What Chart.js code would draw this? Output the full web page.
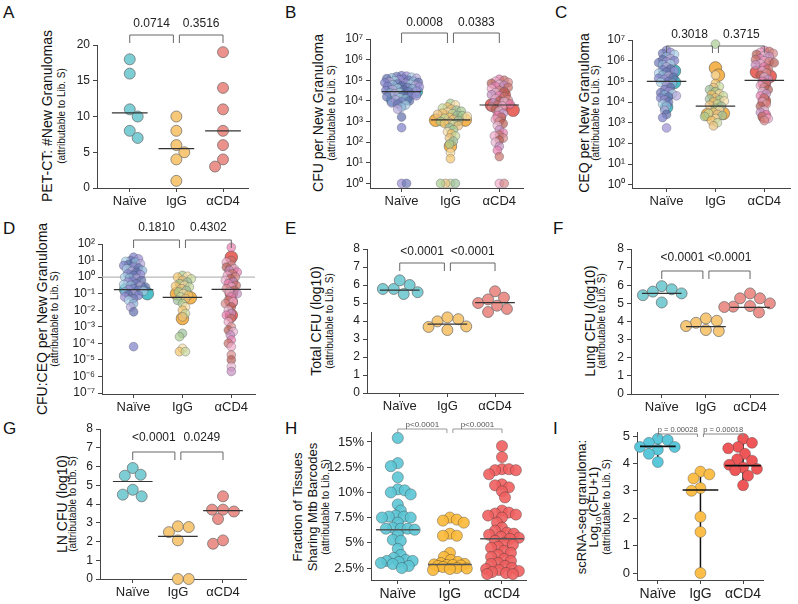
<!DOCTYPE html>
<html lang="en">
<head>
<meta charset="UTF-8" />
<title>Granuloma CFU panels</title>
<script src="https://cdn.jsdelivr.net/npm/chart.js"></script>
<style>
  body { margin: 0; background: #fff; font-family: 'Liberation Sans', Arial, sans-serif; }
  #fig { position: relative; width: 798px; height: 604px; overflow: hidden; }
  .box { position: absolute; }
  .letter { position: absolute; font-size: 17px; line-height: 17px; color: #111; }
  .ytitle { position: absolute; white-space: nowrap; transform: translate(-50%, -50%) rotate(-90deg); color: #111; line-height: 1; }
  .main { font-size: 14px; }
  .main2 { font-size: 13px; }
  .sub { font-size: 10px; }
</style>
</head>
<body>
<div id="fig"></div>
<script>
const cats = ['Naïve', 'IgG', 'αCD4'];

// A: PET-CT new granulomas
const aNaive = [18, 16, 11, 10, 8, 7];
const aIgG = [10, 8, 6, 5, 4, 1];
const aCD4 = [19, 14, 11, 8, 6, 4, 3];
const aMed = [10.5, 5.5, 8];
const aTicks = [0, 5, 10, 15, 20];
const aP = ['0.0714', '0.3516'];

// B: CFU per new granuloma (log10 exponents)
const bNaive = [5.22, 5.2, 5.18, 5.15, 5.12, 5.1, 5.08, 5.05, 5.02, 5.0, 4.97, 4.95, 4.92, 4.9, 4.88, 4.85, 4.82, 4.8, 4.78, 4.75, 4.72, 4.7, 4.68, 4.65, 4.6, 4.58, 4.55, 4.52, 4.5, 4.47, 4.45, 4.4, 4.38, 4.35, 4.3, 4.28, 4.25, 4.2, 4.15, 4.1, 4.05, 4.0, 3.95, 3.9, 3.85, 3.8, 3.7, 3.6, 3.22, 2.7, 0, 0];
const bNaiveBig = [4.65, 4.62, 4.6, 4.45, 4.3, 4.1, 4.05];
const bIgG = [3.88, 3.8, 3.7, 3.65, 3.6, 3.55, 3.5, 3.45, 3.4, 3.38, 3.35, 3.3, 3.28, 3.25, 3.2, 3.15, 3.1, 3.05, 3.0, 2.95, 2.9, 2.85, 2.8, 2.7, 2.6, 2.5, 2.4, 2.3, 2.2, 2.05, 1.9, 1.5, 1.2, 0, 0, 0, 0];
const bIgGBig = [3.08, 3.06, 3.1, 3.05, 3.07, 3.3, 1.8];
const bCD4 = [5.05, 5.0, 4.95, 4.9, 4.85, 4.8, 4.75, 4.7, 4.65, 4.6, 4.5, 4.45, 4.4, 4.3, 4.25, 4.2, 4.1, 4.05, 4.0, 3.95, 3.9, 3.85, 3.8, 3.75, 3.7, 3.6, 3.5, 3.4, 3.3, 3.2, 3.1, 3.0, 2.9, 2.8, 2.6, 2.45, 2.35, 2.3, 2.2, 2.1, 2.0, 1.8, 1.6, 1.3, 0, 0];
const bCD4Big = [4.6, 4.3, 3.85, 3.8, 3.8, 3.55, 3.2];
const bMed = [4.45, 3.08, 3.8];
const bP = ['0.0008', '0.0383'];

// C: CEQ per new granuloma (log10 exponents)
const cNaive = [6.5, 6.4, 6.35, 6.3, 6.2, 6.1, 6.05, 6.0, 5.95, 5.9, 5.85, 5.8, 5.7, 5.6, 5.55, 5.5, 5.45, 5.4, 5.3, 5.25, 5.2, 5.15, 5.1, 5.0, 4.95, 4.9, 4.8, 4.7, 4.6, 4.5, 4.45, 4.4, 4.35, 4.3, 4.25, 4.2, 4.1, 4.0, 3.9, 3.8, 3.6, 3.4, 3.25, 2.75];
const cNaiveBig = [5.6, 5.5, 5.05, 4.95, 4.3, 3.75];
const cIgG = [6.8, 5.3, 4.9, 4.75, 4.7, 4.6, 4.5, 4.4, 4.35, 4.3, 4.2, 4.15, 4.1, 4.05, 4.0, 3.9, 3.85, 3.8, 3.7, 3.6, 3.5, 3.45, 3.4, 3.35, 3.3, 3.2, 3.1, 3.0, 2.85];
const cIgGBig = [5.65, 5.3, 4.4, 4.0, 3.45, 3.45, 3.4];
const cCD4 = [6.5, 6.45, 6.4, 6.35, 6.3, 6.25, 6.2, 6.1, 6.05, 6.0, 5.95, 5.9, 5.85, 5.8, 5.7, 5.6, 5.5, 5.4, 5.3, 5.2, 5.1, 5.0, 4.9, 4.8, 4.7, 4.6, 4.5, 4.4, 4.3, 4.2, 4.0, 3.9, 3.8, 3.6, 3.5, 3.4, 3.3, 3.2, 3.1];
const cCD4Big = [5.9, 5.5, 5.45, 5.25, 4.9, 4.05, 3.3];
const cMed = [5.0, 3.8, 5.05];
const cP = ['0.3018', '0.3715'];

// D: CFU:CEQ ratio (log10 exponents)
const dNaive = [1.2, 1.1, 1.0, 0.95, 0.9, 0.8, 0.75, 0.7, 0.6, 0.55, 0.5, 0.4, 0.35, 0.3, 0.2, 0.15, 0.1, 0.0, -0.05, -0.1, -0.2, -0.25, -0.3, -0.4, -0.45, -0.5, -0.55, -0.6, -0.7, -0.75, -0.8, -0.85, -0.9, -1.0, -1.05, -1.1, -1.2, -1.3, -1.4, -1.6, -1.8, -2.1, -4.2];
const dNaiveBig = [0.78, 0.2, -0.7, -0.72, -0.75, -1.0];
const dIgG = [0.1, 0.05, 0.0, -0.1, -0.2, -0.3, -0.4, -0.5, -0.55, -0.6, -0.7, -0.8, -0.9, -1.0, -1.1, -1.2, -1.3, -1.4, -1.6, -1.8, -2.0, -2.2, -2.4, -3.4, -3.6, -4.3, -4.5, -4.5];
const dIgGBig = [-0.5, -0.95, -1.0, -1.25, -2.5];
const dCD4 = [1.8, 1.0, 0.9, 0.7, 0.6, 0.5, 0.4, 0.3, 0.2, 0.1, 0.0, -0.1, -0.2, -0.3, -0.4, -0.5, -0.6, -0.7, -0.8, -0.9, -1.0, -1.2, -1.4, -1.5, -1.6, -1.8, -2.0, -2.2, -2.3, -2.5, -2.7, -3.0, -3.2, -3.3, -3.5, -3.8, -4.0, -4.2, -4.7, -5.0, -5.4, -5.7];
const dCD4Big = [1.2, 0.4, -0.3, -1.0, -1.5, -2.3];
const dMed = [-0.75, -1.22, -0.74];
const dP = ['0.1810', '0.4302'];

// E, F, G: total / lung / LN CFU (log10)
const eNaive = [5.6, 6.0, 5.78, 6.26, 5.78, 5.5];
const eIgG = [4.1, 3.98, 4.2, 3.5, 3.67, 3.7];
const eCD4 = [5.65, 5.0, 4.5, 5.3, 5.2, 4.67, 4.85];
const eMed = [5.72, 3.83, 5.02];
const eP = ['<0.0001', '<0.0001'];

const fNaive = [5.95, 5.78, 5.05, 5.45, 5.65, 5.55];
const fIgG = [3.93, 4.17, 4.04, 3.47, 3.53, 3.75];
const fCD4 = [5.0, 4.5, 5.28, 4.82, 5.28, 5.55, 4.8, 4.85];
const fMed = [5.55, 3.72, 4.78];
const fP = ['<0.0001', '<0.0001'];

const gNaive = [5.92, 5.51, 5.56, 4.41, 4.76, 4.5];
const gIgG = [2.81, 2.5, 2.77, 2.06, 0, 0];
const gCD4 = [4.41, 3.7, 3.7, 3.6, 3.2, 1.88, 2.06];
const gMed = [5.2, 2.27, 3.65];
const gP = ['<0.0001', '0.0249'];
const logTicks = [0, 1, 2, 3, 4, 5, 6, 7, 8];

// H: fraction of tissues sharing barcodes (%)
const hNaive = [15.4, 12.9, 12.6, 11.5, 10.3, 10.2, 10.0, 9.8, 8.8, 8.2, 7.7, 7.6, 7.6, 7.5, 7.5, 7.0, 6.5, 6.4, 6.4, 6.4, 6.3, 5.8, 5.3, 5.2, 4.4, 3.8, 3.5, 3.3, 3.2, 3.2, 3.1, 3.0, 2.9, 2.7, 2.5];
const hIgG = [7.5, 7.3, 7.2, 7.0, 5.9, 5.7, 5.7, 4.0, 3.6, 3.3, 3.1, 3.0, 2.9, 2.85, 2.8, 2.8, 2.75, 2.7, 2.6, 2.5, 2.45, 2.4, 2.3];
const hCD4 = [14.6, 13.5, 12.3, 12.3, 12.2, 12.2, 11.8, 10.8, 10.7, 10.5, 10.1, 9.5, 8.2, 8.0, 7.9, 7.8, 7.7, 7.5, 7.0, 6.5, 6.2, 6.0, 5.9, 5.8, 5.6, 5.5, 5.4, 5.2, 5.0, 4.8, 4.6, 4.5, 4.2, 4.0, 3.8, 3.6, 3.4, 3.2, 3.0, 2.9, 2.7, 2.5, 2.4, 2.3, 2.2, 2.1, 2.0, 1.9, 1.9];
const hMed = [6.3, 2.85, 5.4];
const hTicks = [2.5, 5, 7.5, 10, 12.5, 15];
const hP = ['p<0.0001', 'p<0.0001'];

// I: scRNA-seq granuloma log10(CFU+1)
const iNaive = [4.9, 4.85, 4.75, 4.6, 4.6, 4.5, 4.35, 4.05];
const iIgG = [3.7, 3.6, 3.45, 3.1, 3.0, 2.05, 1.5, 0];
const iCD4 = [4.9, 4.75, 4.6, 4.55, 4.35, 4.15, 4.1, 3.95, 3.85, 3.8, 3.75, 3.55, 3.2];
const iMed = [4.62, 3.03, 3.92];
const iTicks = [0, 1, 2, 3, 4, 5];
const iP = ['p = 0.00028', 'p = 0.00018'];

// panel geometry in page pixels (plot area, category centres, annotation offsets)
const layout = {
  A: { axisX: 97, right: 250, top: 45, bottom: 188, cat0: 130, step: 47, med: 18, bLine: -10, bLeg: -2, bText: -21 },
  B: { axisX: 370, right: 525, top: 39, bottom: 188, cat0: 402, step: 49.5, med: 20, bLine: -6, bLeg: 4, bText: -16 },
  C: { axisX: 632, right: 792, top: 40, bottom: 188, cat0: 667, step: 49.5, med: 20, bLine: 6, bLeg: 13, bText: -5 },
  D: { axisX: 102, right: 257, top: 244, bottom: 394, cat0: 134, step: 49.5, med: 20, bLine: -4, bLeg: 4, bText: -16 },
  E: { axisX: 367, right: 525, top: 249, bottom: 393, cat0: 400, step: 48, med: 20, bLine: 14, bLeg: 22, bText: 3 },
  F: { axisX: 631, right: 780, top: 249, bottom: 394, cat0: 662, step: 44.5, med: 20, bLine: 22, bLeg: 30, bText: 9 },
  G: { axisX: 100, right: 248, top: 429, bottom: 579, cat0: 133, step: 45.5, med: 20, bLine: 23, bLeg: 31, bText: 9 },
  H: { axisX: 371, right: 528, top: 432, bottom: 580, cat0: 398, step: 52.5, med: 22, bLine: -3, bLeg: 1, bText: -7 },
  I: { axisX: 637, right: 765, top: 432, bottom: 580, cat0: 658, step: 43, med: 18, bLine: 2, bLeg: 5, bText: -2 }
};

const letters = [['A', 3, 4], ['B', 285, 4], ['C', 555, 4], ['D', 3, 220], ['E', 285, 220], ['F', 553, 220], ['G', 3, 420], ['H', 285, 420], ['I', 553, 420]];

const titles = [
  { cy: 116, lines: [['main', 47, 'PET-CT: #New Granulomas'], ['sub', 62, '(attributable to Lib. S)']] },
  { cy: 113, lines: [['main', 318, 'CFU per New Granuloma'], ['sub', 332, '(attributable to Lib. S)']] },
  { cy: 113, lines: [['main', 584, 'CEQ per New Granuloma'], ['sub', 596, '(attributable to Lib. S)']] },
  { cy: 319, lines: [['main', 42, 'CFU:CEQ per New Granuloma'], ['sub', 55, '(attributable to Lib. S)']] },
  { cy: 321, lines: [['main', 316, 'Total CFU (log10)'], ['sub', 330, '(attributable to Lib. S)']] },
  { cy: 321, lines: [['main', 590, 'Lung CFU (log10)'], ['sub', 602, '(attributable to Lib. S)']] },
  { cy: 504, lines: [['main', 62, 'LN CFU (log10)'], ['sub', 73, '(attributable to Lib. S)']] },
  { cy: 507, lines: [['main2', 297, 'Fraction of Tissues'], ['main2', 312, 'Sharing Mtb Barcodes'], ['sub', 326, '(attributable to Lib. S)']] },
  { cy: 507, lines: [['main2', 581, 'scRNA-seq granuloma:'], ['main2', 595, 'Log<sub style="font-size:8px">10</sub>(CFU+1)'], ['sub', 607, '(attributable to Lib. S)']] }
];

const FONT = "'Liberation Sans', Arial, sans-serif";
const sup = { '0': '⁰', '1': '¹', '2': '²', '3': '³', '4': '⁴', '5': '⁵', '6': '⁶', '7': '⁷', '8': '⁸', '9': '⁹', '-': '⁻' };
const supText = n => String(n).split('').map(c => sup[c]).join('');

const styles = {
  plain: { colors: ['#7DCDD4', '#F6C878', '#EC928C'], r: 5.5, fac: 0.95, max: 26, border: '#666', bw: 0.7,
           medColor: '#333', medW: 1.2, bColor: '#666', tColor: '#222', tFont: 12, yFont: 12, xFont: 13 },
  mixed: { r: 4.4, fac: 0.5, max: 18, border: 'rgba(70,70,90,0.55)', bw: 0.6,
           bigColors: ['rgba(69,189,198,0.95)', 'rgba(242,176,72,0.95)', 'rgba(232,98,91,0.95)'], bigR: 6.3, bigFac: 0.6, bigMax: 18,
           palettes: [
             ['rgba(124,127,200,0.7)', 'rgba(155,143,212,0.7)', 'rgba(110,120,184,0.7)', 'rgba(169,210,232,0.7)', 'rgba(143,183,216,0.7)', 'rgba(181,168,218,0.7)', 'rgba(96,110,170,0.7)'],
             ['rgba(169,204,142,0.7)', 'rgba(247,221,164,0.7)', 'rgba(242,196,106,0.7)', 'rgba(200,216,154,0.7)', 'rgba(233,194,126,0.7)', 'rgba(157,192,154,0.7)'],
             ['rgba(231,127,174,0.7)', 'rgba(201,112,106,0.7)', 'rgba(240,169,200,0.7)', 'rgba(217,138,138,0.7)', 'rgba(182,95,85,0.7)', 'rgba(233,183,210,0.7)', 'rgba(197,141,190,0.7)']
           ],
           medColor: '#333', medW: 1.2, bColor: '#666', tColor: '#222', tFont: 12, yFont: 12, xFont: 13 },
  H: { colors: ['rgba(92,197,213,0.9)', 'rgba(251,185,56,0.9)', 'rgba(239,95,95,0.9)'], r: 5.6, fac: 0.6, max: 17, border: 'rgba(50,50,50,0.6)', bw: 0.6,
       medColor: '#555', medW: 1.5, bColor: '#999', tColor: '#555', tFont: 8, yFont: 13, xFont: 14 },
  I: { colors: ['#5BC7DA', '#FBBE48', '#EE5658'], r: 5.5, fac: 0.85, max: 20, border: 'rgba(60,60,60,0.6)', bw: 0.6,
       medColor: '#111', medW: 1.6, bColor: '#888', tColor: '#555', tFont: 7.5, yFont: 13, xFont: 14 }
};

const panels = [
  { id: 'A', kind: 'plain', groups: [aNaive, aIgG, aCD4], med: aMed, yMin: 0, yMax: 20, ticks: aTicks, p: aP },
  { id: 'B', kind: 'mixed', log: true, groups: [bNaive, bIgG, bCD4], big: [bNaiveBig, bIgGBig, bCD4Big], med: bMed, yMin: -0.19, yMax: 7, ticks: [0, 1, 2, 3, 4, 5, 6, 7], p: bP },
  { id: 'C', kind: 'mixed', log: true, groups: [cNaive, cIgG, cCD4], big: [cNaiveBig, cIgGBig, cCD4Big], med: cMed, yMin: -0.145, yMax: 7, ticks: [0, 1, 2, 3, 4, 5, 6, 7], p: cP },
  { id: 'D', kind: 'mixed', log: true, groups: [dNaive, dIgG, dCD4], big: [dNaiveBig, dIgGBig, dCD4Big], med: dMed, yMin: -7.06, yMax: 2, ticks: [-7, -6, -5, -4, -3, -2, -1, 0, 1, 2], p: dP, ref: 0 },
  { id: 'E', kind: 'plain', groups: [eNaive, eIgG, eCD4], med: eMed, yMin: 0, yMax: 8, ticks: logTicks, p: eP },
  { id: 'F', kind: 'plain', groups: [fNaive, fIgG, fCD4], med: fMed, yMin: 0, yMax: 8, ticks: logTicks, p: fP },
  { id: 'G', kind: 'plain', groups: [gNaive, gIgG, gCD4], med: gMed, yMin: 0, yMax: 8, ticks: logTicks, p: gP },
  { id: 'H', kind: 'H', groups: [hNaive, hIgG, hCD4], med: hMed, yMin: 1.31, yMax: 15.99, ticks: hTicks, p: hP, pct: true },
  { id: 'I', kind: 'I', groups: [iNaive, iIgG, iCD4], med: iMed, yMin: -0.255, yMax: 5.146, ticks: iTicks, p: iP, ranges: true }
];

// simple beeswarm: offsets (in px) so circles do not pile up
function swarm(vals, toPx, r, fac, maxOff) {
  const d = 2 * r * fac;
  const order = vals.map((v, i) => i).sort((a, b) => toPx(vals[a]) - toPx(vals[b]));
  const placed = [];
  const out = new Array(vals.length).fill(0);
  order.forEach(i => {
    const py = toPx(vals[i]);
    let best = 0, bestD = -1, done = false;
    for (let k = 0; k <= maxOff && !done; k++) {
      const cand = k === 0 ? [0] : (placed.length % 2 ? [k, -k] : [-k, k]);
      for (const s of cand) {
        let md = Infinity;
        for (const q of placed) md = Math.min(md, Math.hypot(q[0] - s, q[1] - py));
        if (md >= d) { best = s; done = true; break; }
        if (md > bestD) { bestD = md; best = s; }
      }
    }
    placed.push([best, py]);
    out[i] = best;
  });
  return out;
}

const marks = {
  id: 'marks',
  beforeDatasetsDraw(chart, args, o) {
    const { ctx, chartArea: ca, scales: { x, y } } = chart;
    ctx.save();
    if (o.ref !== undefined) {
      const yy = y.getPixelForValue(o.ref);
      ctx.strokeStyle = '#b8b8b8';
      ctx.lineWidth = 1.2;
      ctx.beginPath(); ctx.moveTo(ca.left, yy); ctx.lineTo(ca.right, yy); ctx.stroke();
    }
    if (o.ranges) {
      ctx.strokeStyle = '#111';
      ctx.lineWidth = 1.5;
      o.ranges.forEach((rg, i) => {
        const xx = x.getPixelForValue(i);
        ctx.beginPath(); ctx.moveTo(xx, y.getPixelForValue(rg[0])); ctx.lineTo(xx, y.getPixelForValue(rg[1])); ctx.stroke();
      });
    }
    ctx.restore();
  },
  afterDatasetsDraw(chart, args, o) {
    const { ctx, chartArea: ca, scales: { x, y } } = chart;
    ctx.save();
    ctx.strokeStyle = o.medColor;
    ctx.lineWidth = o.medW;
    o.medians.forEach((m, i) => {
      const yy = y.getPixelForValue(m);
      ctx.beginPath(); ctx.moveTo(x.getPixelForValue(i - o.half), yy); ctx.lineTo(x.getPixelForValue(i + o.half), yy); ctx.stroke();
    });
    ctx.strokeStyle = o.bColor;
    ctx.lineWidth = 1;
    ctx.fillStyle = o.tColor;
    ctx.font = o.tFont + 'px ' + FONT;
    ctx.textAlign = 'center';
    ctx.textBaseline = 'middle';
    o.brackets.forEach(b => {
      const xa = x.getPixelForValue(b[0]) + (b[0] === 1 ? 3 : 0);
      const xb = x.getPixelForValue(b[1]) - (b[1] === 1 ? 3 : 0);
      const yl = ca.top + o.bLine, yg = ca.top + o.bLeg;
      ctx.beginPath(); ctx.moveTo(xa, yg); ctx.lineTo(xa, yl); ctx.lineTo(xb, yl); ctx.lineTo(xb, yg); ctx.stroke();
      ctx.fillText(b[2], (xa + xb) / 2, ca.top + o.bText);
    });
    ctx.restore();
  }
};
Chart.register(marks);

const fig = document.getElementById('fig');

letters.forEach(([t, l, tp]) => {
  const d = document.createElement('div');
  d.className = 'letter';
  d.style.left = l + 'px';
  d.style.top = tp + 'px';
  d.textContent = t;
  fig.appendChild(d);
});

titles.forEach(t => t.lines.forEach(([cls, x, txt]) => {
  const d = document.createElement('div');
  d.className = 'ytitle ' + cls;
  d.style.left = x + 'px';
  d.style.top = t.cy + 'px';
  d.innerHTML = txt;
  fig.appendChild(d);
}));

function build(p) {
  const L = layout[p.id];
  const S = styles[p.kind];
  const W = 46, PT = 44, XH = 28, PR = 5;
  const box = document.createElement('div');
  box.className = 'box';
  box.style.left = (L.axisX - W) + 'px';
  box.style.top = (L.top - PT) + 'px';
  box.style.width = (W + L.right - L.axisX + PR) + 'px';
  box.style.height = (PT + L.bottom - L.top + XH) + 'px';
  const cv = document.createElement('canvas');
  box.appendChild(cv);
  fig.appendChild(box);

  const toPx = v => L.top + (p.yMax - v) / (p.yMax - p.yMin) * (L.bottom - L.top);
  const val = v => p.log ? Math.pow(10, v) : v;
  const datasets = [];
  p.groups.forEach((g, gi) => {
    const off = swarm(g, toPx, S.r, S.fac, S.max);
    datasets.push({
      data: g.map((v, i) => ({ x: gi + off[i] / L.step, y: val(v) })),
      pointRadius: S.r,
      pointHoverRadius: S.r,
      pointBackgroundColor: S.palettes ? g.map((v, i) => S.palettes[gi][i % S.palettes[gi].length]) : S.colors[gi],
      pointBorderColor: S.border,
      pointBorderWidth: S.bw,
      clip: false
    });
  });
  if (p.big) {
    p.big.forEach((g, gi) => {
      const off = swarm(g, toPx, S.bigR, S.bigFac, S.bigMax);
      datasets.push({
        data: g.map((v, i) => ({ x: gi + off[i] / L.step, y: val(v) })),
        pointRadius: S.bigR,
        pointHoverRadius: S.bigR,
        pointBackgroundColor: S.bigColors[gi],
        pointBorderColor: 'rgba(70,70,70,0.7)',
        pointBorderWidth: 0.7,
        clip: false
      });
    });
  }

  const axisGrid = { display: true, drawOnChartArea: false, drawTicks: true, tickLength: 4, color: '#444', lineWidth: 1 };
  const axisBorder = { display: true, color: '#444', width: 1 };

  new Chart(cv, {
    type: 'scatter',
    data: { datasets },
    options: {
      responsive: true,
      maintainAspectRatio: false,
      animation: false,
      layout: { padding: { top: PT, right: PR, left: 0, bottom: 0 } },
      plugins: {
        legend: { display: false },
        tooltip: { enabled: false },
        marks: {
          medians: p.med.map(val),
          half: L.med / L.step,
          medColor: S.medColor, medW: S.medW,
          brackets: [[0, 1, p.p[0]], [1, 2, p.p[1]]],
          bLine: L.bLine, bLeg: L.bLeg, bText: L.bText,
          bColor: S.bColor, tColor: S.tColor, tFont: S.tFont,
          ref: p.ref !== undefined ? val(p.ref) : undefined,
          ranges: p.ranges ? p.groups.map(g => [Math.min(...g), Math.max(...g)]) : null
        }
      },
      scales: {
        x: {
          type: 'linear',
          min: (L.axisX - L.cat0) / L.step,
          max: (L.right - L.cat0) / L.step,
          afterFit: s => { s.height = XH; },
          afterBuildTicks: s => { s.ticks = [0, 1, 2].map(v => ({ value: v })); },
          grid: axisGrid,
          border: axisBorder,
          ticks: { autoSkip: false, maxRotation: 0, padding: 2, color: '#222', font: { family: FONT, size: S.xFont }, callback: v => cats[Math.round(v)] }
        },
        y: {
          type: p.log ? 'logarithmic' : 'linear',
          min: val(p.yMin),
          max: val(p.yMax),
          afterFit: s => { s.width = W; },
          afterBuildTicks: s => { s.ticks = p.ticks.map(v => ({ value: val(v) })); },
          grid: axisGrid,
          border: axisBorder,
          ticks: {
            autoSkip: false, padding: 3, color: '#222', font: { family: FONT, size: S.yFont },
            callback: v => p.log ? '10' + supText(Math.round(Math.log10(v))) : (p.pct ? v + '%' : String(v))
          }
        }
      }
    }
  });
}

panels.forEach(build);
</script>
</body>
</html>
